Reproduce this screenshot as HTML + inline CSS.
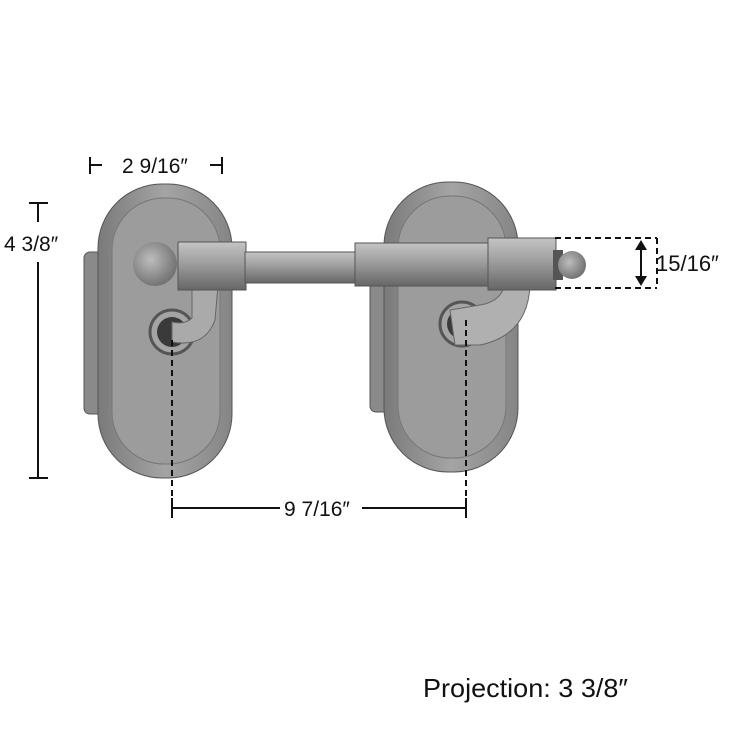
<!DOCTYPE html>
<html><head><style>
html,body{margin:0;padding:0;background:#fff;}
svg{display:block}
text{font-family:"Liberation Sans",sans-serif;fill:#111}
</style></head><body>
<svg width="730" height="730" viewBox="0 0 730 730" xmlns="http://www.w3.org/2000/svg">
<defs>
<linearGradient id="pl" x1="0" x2="1" y1="0" y2="0">
<stop offset="0" stop-color="#7a7a7a"/><stop offset="0.5" stop-color="#a4a4a4"/><stop offset="1" stop-color="#858585"/></linearGradient>
<linearGradient id="rod" x1="0" x2="0" y1="0" y2="1">
<stop offset="0" stop-color="#c4c4c4"/><stop offset="0.4" stop-color="#a2a2a2"/><stop offset="1" stop-color="#666"/></linearGradient>
<radialGradient id="ball" cx="0.4" cy="0.4" r="0.6">
<stop offset="0" stop-color="#bdbdbd"/><stop offset="1" stop-color="#747474"/></radialGradient>
</defs>

<g>
<rect x="84" y="252" width="40" height="162" rx="6" fill="#8a8a8a" stroke="#555"/>
<rect x="98" y="184" width="134" height="294" rx="64" fill="url(#pl)" stroke="#555"/>
<rect x="112" y="198" width="108" height="266" rx="52" fill="#9c9c9c" stroke="#777"/>
<circle cx="172" cy="332" r="22" fill="#a4a4a4" stroke="#555" stroke-width="3"/>
<circle cx="172" cy="332" r="15" fill="#3a3a3a"/>
<path d="M172 342 Q205 348 215 320 L218 285 L192 285 L192 318 Q185 325 172 322 Z" fill="#aaa" stroke="#666"/>
<circle cx="155" cy="264" r="22" fill="url(#ball)"/>
<rect x="178" y="242" width="68" height="48" fill="url(#rod)" stroke="#555"/>
</g>
<g>
<rect x="370" y="250" width="40" height="162" rx="6" fill="#8a8a8a" stroke="#555"/>
<rect x="384" y="182" width="134" height="290" rx="64" fill="url(#pl)" stroke="#555"/>
<rect x="398" y="196" width="108" height="262" rx="52" fill="#9c9c9c" stroke="#777"/>
<circle cx="462" cy="324" r="22" fill="#a4a4a4" stroke="#555" stroke-width="3"/>
<circle cx="462" cy="324" r="15" fill="#3a3a3a"/>
<path d="M450 310 L480 305 Q500 302 505 285 L530 285 Q528 335 480 345 L455 345 Z" fill="#b0b0b0" stroke="#666"/>
</g>
<rect x="245" y="252" width="112" height="31" fill="url(#rod)" stroke="#555"/>
<rect x="355" y="243" width="135" height="43" fill="url(#rod)" stroke="#555"/>
<rect x="488" y="238" width="68" height="52" fill="url(#rod)" stroke="#555"/>
<rect x="553" y="250" width="10" height="30" fill="#555"/>
<circle cx="572" cy="265" r="14" fill="url(#ball)"/>

<g stroke="#111" stroke-width="2" fill="none">
<line x1="90" y1="157" x2="90" y2="174"/><line x1="90" y1="165" x2="102" y2="165"/>
<line x1="222" y1="157" x2="222" y2="174"/><line x1="210" y1="165" x2="222" y2="165"/>
<line x1="29" y1="203" x2="48" y2="203"/><line x1="38" y1="203" x2="38" y2="222"/>
<line x1="38" y1="262" x2="38" y2="478"/><line x1="29" y1="478" x2="48" y2="478"/>
<line x1="172" y1="508" x2="280" y2="508"/><line x1="362" y1="508" x2="466" y2="508"/>
<line x1="172" y1="498" x2="172" y2="518"/><line x1="466" y1="498" x2="466" y2="518"/>
<g stroke-dasharray="6,4">
<line x1="172" y1="340" x2="172" y2="500"/><line x1="466" y1="320" x2="466" y2="500"/>
<line x1="555" y1="238" x2="657" y2="238"/><line x1="555" y1="288" x2="657" y2="288"/>
<line x1="657" y1="238" x2="657" y2="288"/>
</g>
<line x1="641" y1="244" x2="641" y2="282"/>
</g>
<path d="M641 240 L635 250 L647 250 Z M641 286 L635 276 L647 276 Z" fill="#111"/>

<text x="122" y="173" font-size="21">2 9/16″</text>
<text x="4" y="251" font-size="21">4 3/8″</text>
<text x="656" y="271" font-size="22">15/16″</text>
<text x="284" y="516" font-size="21">9 7/16″</text>
<text x="423" y="697" font-size="26" textLength="205" lengthAdjust="spacingAndGlyphs">Projection: 3 3/8″</text>
</svg>
</body></html>
